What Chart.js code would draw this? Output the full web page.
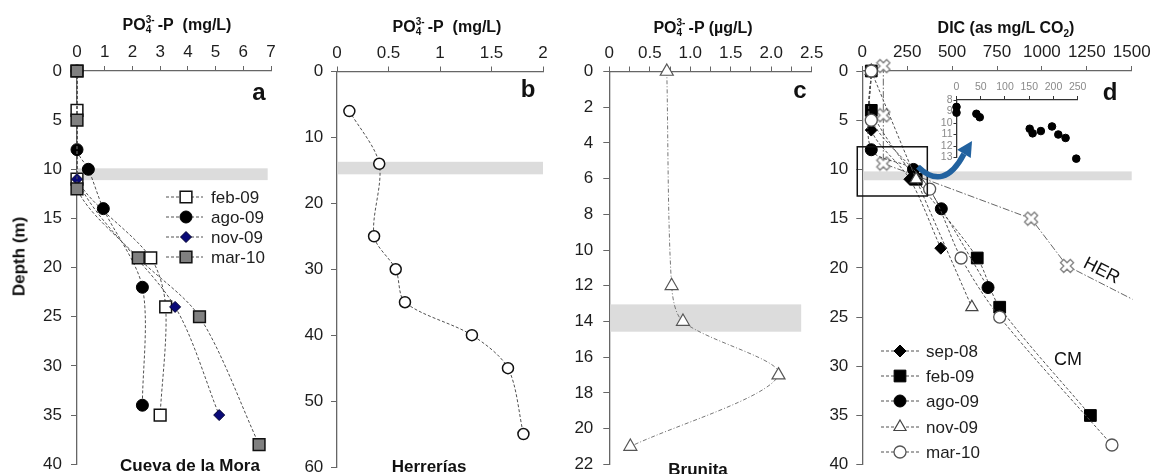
<!DOCTYPE html>
<html><head><meta charset="utf-8">
<script src="https://cdn.jsdelivr.net/npm/chart.js@4.4.1/dist/chart.umd.min.js"></script>
<style>
body{margin:0;background:#fff;}
#wrap{position:relative;width:1153px;height:474px;overflow:hidden;font-family:"Liberation Sans",Arial,sans-serif;color:#111;}
canvas{position:absolute;top:0;}
.t{position:absolute;white-space:nowrap;line-height:1;transform:translateX(-50%);}
.b{font-weight:bold;}
.ss{display:inline-block;position:relative;width:12px;height:10px;}
.ss .up{position:absolute;left:0;top:-5px;font-size:10px;line-height:1;}
.ss .dn{position:absolute;left:0;top:5px;font-size:10px;line-height:1;}
</style></head>
<body><div id="wrap">
<canvas id="ca" width="290" height="474" style="left:0px"></canvas>
<canvas id="cb" width="270" height="474" style="left:290px"></canvas>
<canvas id="cc" width="270" height="474" style="left:560px"></canvas>
<canvas id="cd" width="338" height="474" style="left:815px"></canvas>
<canvas id="ci" width="175" height="95" style="left:915px;top:70px"></canvas>

<div class="t b" style="left:177px;top:17px;font-size:16px">PO<span class="ss"><span class="up">3-</span><span class="dn">4</span></span>-P&nbsp;&nbsp;(mg/L)</div>
<div class="t b" style="left:447px;top:19px;font-size:16px">PO<span class="ss"><span class="up">3-</span><span class="dn">4</span></span>-P&nbsp;&nbsp;(mg/L)</div>
<div class="t b" style="left:703px;top:20px;font-size:16px">PO<span class="ss"><span class="up">3-</span><span class="dn">4</span></span>-P (µg/L)</div>
<div class="t b" style="left:1006px;top:20px;font-size:16px">DIC (as mg/L CO<span style="font-size:10px;position:relative;top:4px">2</span>)</div>

<div class="t b" style="left:259px;top:80px;font-size:24px">a</div>
<div class="t b" style="left:528px;top:77px;font-size:24px">b</div>
<div class="t b" style="left:800px;top:78px;font-size:24px">c</div>
<div class="t b" style="left:1110px;top:80px;font-size:24px">d</div>

<div class="t b" style="left:19px;top:248px;font-size:17px;transform:translateX(-50%) rotate(-90deg)">Depth (m)</div>
<div class="t b" style="left:190px;top:457px;font-size:17px">Cueva de la Mora</div>
<div class="t b" style="left:429px;top:458px;font-size:17px">Herrerías</div>
<div class="t b" style="left:698px;top:461px;font-size:17px">Brunita</div>
<div class="t" style="left:1102px;top:261px;font-size:18px;transform:translateX(-50%) rotate(27deg)">HER</div>
<div class="t" style="left:1068px;top:350px;font-size:18px">CM</div>
</div>
<script>
// ---------- DATA ----------
// Panel a: Cueva de la Mora, PO4-P (mg/L) vs depth (m)
const depthA_feb09 = [0, 4, 11, 19, 24, 35];
const po4A_feb09   = [0, 0, 0, 2.66, 3.2, 3.0];
const depthA_ago09 = [0, 8, 10, 14, 22, 34];
const po4A_ago09   = [0, 0, 0.41, 0.95, 2.36, 2.36];
const depthA_nov09 = [0, 11, 24, 35];
const po4A_nov09   = [0, 0, 3.54, 5.13];
const depthA_mar10 = [0, 5, 12, 19, 25, 38];
const po4A_mar10   = [0, 0, 0, 2.21, 4.42, 6.57];
// Panel b: Herrerías
const depthB = [6, 14, 25, 30, 35, 40, 45, 55];
const po4B   = [0.12, 0.41, 0.36, 0.57, 0.66, 1.31, 1.66, 1.81];
// Panel c: Brunita (µg/L)
const depthC = [0, 12, 14, 17, 21];
const po4C   = [0.71, 0.77, 0.91, 2.09, 0.26];
// Panel d: DIC (mg/L CO2)
const depthD_sep08 = [0, 6, 11, 18];
const dicD_sep08   = [50, 50, 265, 437];
const depthD_feb09 = [0, 4, 11, 19, 24, 35];
const dicD_feb09   = [50, 50, 300, 640, 765, 1270];
const depthD_ago09 = [0, 8, 10, 14, 22];
const dicD_ago09   = [50, 50, 285, 440, 700];
const depthD_nov09 = [0, 11, 24];
const dicD_nov09   = [50, 300, 610];
const depthD_mar10 = [0, 5, 12, 19, 25, 38];
const dicD_mar10   = [50, 50, 375, 550, 765, 1390];
const depthD_HER   = [-0.5, 4.5, 9.4, 15, 19.8, 23.2];
const dicD_HER     = [117, 117, 117, 940, 1140, 1505];
// inset (DIC 0-250, depth 8-13)
const insetDIC   = [0, 0, 41, 48, 151, 157, 174, 197, 210, 225, 247];
const insetDepth = [8.6, 9.1, 9.2, 9.5, 10.5, 10.9, 10.7, 10.3, 11.0, 11.3, 13.1];
// redoxcline bands (depth range, x range)
const bandA = [9.9, 11.1], bandAx = [0, 6.88];
const bandB = [13.7, 15.6], bandBx = [0, 2];
const bandC = [13.04, 14.57], bandCx = [0, 2.37];
const bandD = [10.2, 11.1], bandDx = [0, 1500];

// ---------- STYLE / HELPERS ----------
const FONT = '"Liberation Sans", Arial, sans-serif';
const AX = '#666';
const TXT = '#1e1e1e';
const pts = (xs, ys) => xs.map((x, i) => ({x, y: ys[i]}));

function crossImg(){
  const c = document.createElement('canvas'); c.width = 16; c.height = 16;
  const g = c.getContext('2d'); g.translate(8, 8); g.rotate(Math.PI/4);
  const a = 7, w = 2.3;
  g.beginPath();
  g.moveTo(-w,-a); g.lineTo(w,-a); g.lineTo(w,-w); g.lineTo(a,-w); g.lineTo(a,w); g.lineTo(w,w);
  g.lineTo(w,a); g.lineTo(-w,a); g.lineTo(-w,w); g.lineTo(-a,w); g.lineTo(-a,-w); g.lineTo(-w,-w);
  g.closePath(); g.fillStyle = '#fff'; g.fill(); g.strokeStyle = '#808080'; g.lineWidth = 1.3; g.stroke();
  return c;
}

const bandPlugin = {
  id: 'band',
  beforeDatasetsDraw(chart, args, o){
    if (!o || !o.depth) return;
    const {ctx, scales:{x, y}} = chart;
    const x0 = x.getPixelForValue(o.xr[0]) + 1, x1 = x.getPixelForValue(o.xr[1]);
    const y0 = y.getPixelForValue(o.depth[0]), y1 = y.getPixelForValue(o.depth[1]);
    ctx.save(); ctx.fillStyle = '#dcdcdc'; ctx.fillRect(x0, y0, x1 - x0, y1 - y0); ctx.restore();
  }
};

function marker(ctx, ds, x, y){
  ctx.save();
  ctx.fillStyle = ds.pointBackgroundColor; ctx.strokeStyle = ds.pointBorderColor; ctx.lineWidth = ds.pointBorderWidth;
  Chart.helpers.drawPoint(ctx, {pointStyle: ds.pointStyle, radius: ds.pointRadius, borderWidth: ds.pointBorderWidth, rotation: 0}, x, y);
  ctx.restore();
}

const legendPlugin = {
  id: 'profLegend',
  afterDatasetsDraw(chart, args, o){
    if (!o || !o.rows) return;
    const ctx = chart.ctx;
    const items = chart.data.datasets.filter(d => d.inLegend).sort((a, b) => a.inLegend - b.inLegend);
    items.forEach((ds, i) => {
      const y = o.rows[i];
      ctx.save();
      ctx.strokeStyle = ds.borderColor; ctx.lineWidth = 1; ctx.setLineDash(ds.borderDash || []);
      ctx.beginPath(); ctx.moveTo(o.x0, y); ctx.lineTo(o.x1, y); ctx.stroke();
      ctx.setLineDash([]);
      marker(ctx, ds, o.xm, y);
      ctx.fillStyle = TXT; ctx.font = '17px ' + FONT; ctx.textBaseline = 'middle';
      ctx.fillText(ds.label, o.xt, y + 1);
      ctx.restore();
    });
  }
};

const extrasPlugin = {
  id: 'extras',
  afterDatasetsDraw(chart, args, o){
    if (!o || !o.box) return;
    const {ctx, scales:{x, y}} = chart;
    const px = v => x.getPixelForValue(v), py = v => y.getPixelForValue(v);
    ctx.save();
    ctx.strokeStyle = '#111'; ctx.lineWidth = 1.5;
    ctx.strokeRect(px(o.box[0]), py(o.box[2]), px(o.box[1]) - px(o.box[0]), py(o.box[3]) - py(o.box[2]));
    const a = o.arrow;
    const s = [px(a[0][0]), py(a[0][1])], c = [px(a[1][0]), py(a[1][1])], e = [px(a[2][0]), py(a[2][1])], t = [px(a[3][0]), py(a[3][1])];
    ctx.strokeStyle = '#22629f'; ctx.fillStyle = '#22629f'; ctx.lineWidth = 5.5; ctx.lineCap = 'butt';
    ctx.beginPath(); ctx.moveTo(s[0], s[1]); ctx.quadraticCurveTo(c[0], c[1], e[0], e[1]); ctx.stroke();
    const dx = t[0] - e[0], dy = t[1] - e[1], L = Math.hypot(dx, dy), nx = -dy / L, ny = dx / L, hw = 8;
    ctx.beginPath(); ctx.moveTo(t[0], t[1]);
    ctx.lineTo(e[0] + nx * hw, e[1] + ny * hw); ctx.lineTo(e[0] - nx * hw, e[1] - ny * hw); ctx.closePath(); ctx.fill();
    ctx.restore();
  }
};

const plain = v => String(v);
function opts(o){
  const xt = {stepSize: o.xstep, color: o.xtc || TXT, font: {family: FONT, size: o.fs || 17}, padding: o.xpad ?? 3, maxRotation: 0, autoSkip: false, callback: o.xcb || plain};
  return {
    responsive: false, animation: false, devicePixelRatio: 1, events: [],
    layout: {padding: {left: 0, top: 0, right: o.padR, bottom: o.padB}},
    plugins: {legend: {display: false}, tooltip: {enabled: false},
      band: o.band || {}, profLegend: o.legend || {}, extras: o.extras || {}},
    scales: {
      x: {type: 'linear', position: 'top', min: o.xmin, max: o.xmax, ticks: xt,
        grid: {drawOnChartArea: false, tickLength: o.xtl || 5, color: o.axc || AX},
        border: {color: o.axc || AX, width: 1.3},
        afterFit(s){ s.height = o.axH; s.paddingLeft = 0; s.paddingRight = 0; }},
      y: {type: 'linear', position: 'left', reverse: true, min: o.ymin, max: o.ymax,
        ticks: {stepSize: o.ystep, color: o.ytc || TXT, font: {family: FONT, size: o.yfs || 17}, padding: o.ypad ?? 8, autoSkip: false, callback: plain},
        grid: {drawOnChartArea: false, tickLength: o.ytl || 6, color: o.axc || AX},
        border: {color: o.axc || AX, width: 1.3},
        afterFit(s){ s.width = o.axW; s.paddingTop = 0; s.paddingBottom = 0; }}
    }
  };
}
const LINE = {showLine: true, borderColor: '#505050', borderWidth: 1, borderDash: [3, 2], tension: 0.3, clip: false};
const PLUGS = [bandPlugin, legendPlugin, extrasPlugin];

// ---------- PANEL A ----------
new Chart(document.getElementById('ca'), {
  type: 'scatter', plugins: PLUGS,
  data: {datasets: [
    {...LINE, label: 'mar-10', inLegend: 4, order: 1, data: pts(po4A_mar10, depthA_mar10), pointStyle: 'rect', pointRadius: 8.3, pointBackgroundColor: '#808080', pointBorderColor: '#111', pointBorderWidth: 1.5},
    {...LINE, label: 'nov-09', inLegend: 3, order: 2, data: pts(po4A_nov09, depthA_nov09), pointStyle: 'rectRot', pointRadius: 5.5, pointBackgroundColor: '#0a0a78', pointBorderColor: '#000030', pointBorderWidth: 1},
    {...LINE, label: 'ago-09', inLegend: 2, order: 3, data: pts(po4A_ago09, depthA_ago09), pointStyle: 'circle', pointRadius: 6, pointBackgroundColor: '#000', pointBorderColor: '#000', pointBorderWidth: 1},
    {...LINE, label: 'feb-09', inLegend: 1, order: 4, data: pts(po4A_feb09, depthA_feb09), pointStyle: 'rect', pointRadius: 8.3, pointBackgroundColor: '#fff', pointBorderColor: '#111', pointBorderWidth: 1.5}
  ]},
  options: opts({xmin: 0, xmax: 7, xstep: 1, ymin: 0, ymax: 40, ystep: 5, axH: 71, axW: 77, padR: 19, padB: 8.5, ypad: 9,
    band: {depth: bandA, xr: bandAx},
    legend: {rows: [197, 217, 237, 257], x0: 166, x1: 203, xm: 186, xt: 211}})
});

// ---------- PANEL B ----------
new Chart(document.getElementById('cb'), {
  type: 'scatter', plugins: PLUGS,
  data: {datasets: [
    {...LINE, label: 'Herrerías', data: pts(po4B, depthB), pointStyle: 'circle', pointRadius: 5.5, pointBackgroundColor: '#fff', pointBorderColor: '#111', pointBorderWidth: 1.5}
  ]},
  options: opts({xmin: 0, xmax: 2, xstep: 0.5, ymin: 0, ymax: 60, ystep: 10, axH: 71.5, axW: 47, padR: 17, padB: 5.6, ypad: 7.7,
    band: {depth: bandB, xr: bandBx}})
});

// ---------- PANEL C ----------
new Chart(document.getElementById('cc'), {
  type: 'scatter', plugins: PLUGS,
  data: {datasets: [
    {...LINE, label: 'Brunita', borderColor: '#777', borderDash: [4, 2, 1, 2], data: pts(po4C, depthC), pointStyle: 'triangle', pointRadius: 7.5, pointBackgroundColor: '#fff', pointBorderColor: '#555', pointBorderWidth: 1.2}
  ]},
  options: opts({xmin: 0, xmax: 2.5, xstep: 0.25, ymin: 0, ymax: 22, ystep: 2, axH: 71.5, axW: 49.3, padR: 18.3, padB: 9.6, ypad: 10,
    xcb: v => (Math.abs(v * 2 - Math.round(v * 2)) < 1e-9) ? (v === 0 ? '0' : v.toFixed(1)) : '',
    band: {depth: bandC, xr: bandCx}})
});

// ---------- PANEL D ----------
new Chart(document.getElementById('cd'), {
  type: 'scatter', plugins: PLUGS,
  data: {datasets: [
    {...LINE, label: 'mar-10', inLegend: 5, order: 1, data: pts(dicD_mar10, depthD_mar10), pointStyle: 'circle', pointRadius: 6, pointBackgroundColor: '#fff', pointBorderColor: '#555', pointBorderWidth: 1.3},
    {...LINE, label: 'nov-09', inLegend: 4, order: 2, data: pts(dicD_nov09, depthD_nov09), pointStyle: 'triangle', pointRadius: 7, pointBackgroundColor: '#fff', pointBorderColor: '#444', pointBorderWidth: 1.2},
    {...LINE, label: 'ago-09', inLegend: 3, order: 3, data: pts(dicD_ago09, depthD_ago09), pointStyle: 'circle', pointRadius: 6, pointBackgroundColor: '#000', pointBorderColor: '#000', pointBorderWidth: 1},
    {...LINE, label: 'feb-09', inLegend: 2, order: 4, data: pts(dicD_feb09, depthD_feb09), pointStyle: 'rect', pointRadius: 8.3, pointBackgroundColor: '#000', pointBorderColor: '#000', pointBorderWidth: 1},
    {...LINE, label: 'sep-08', inLegend: 1, order: 5, data: pts(dicD_sep08, depthD_sep08), pointStyle: 'rectRot', pointRadius: 6, pointBackgroundColor: '#000', pointBorderColor: '#000', pointBorderWidth: 1},
    {...LINE, label: 'HER', order: 6, borderColor: '#666', borderDash: [7, 2, 1.5, 2], tension: 0, data: pts(dicD_HER, depthD_HER),
      clip: {left: 20, top: 20, right: 1, bottom: 20},
      pointStyle: crossImg(), pointRadius: [6, 6, 6, 6, 6, 0], pointBackgroundColor: '#fff', pointBorderColor: '#888', pointBorderWidth: 1}
  ]},
  options: opts({xmin: 0, xmax: 1500, xstep: 250, ymin: 0, ymax: 40, ystep: 5, axH: 71, axW: 47.3, padR: 21.3, padB: 4, ypad: 8,
    band: {depth: bandD, xr: bandDx},
    legend: {rows: [351, 376, 401, 427, 452], x0: 66, x1: 105, xm: 85, xt: 111},
    extras: {box: [-28, 362, 7.7, 12.7], arrow: [[310, 9.72], [455, 12.3], [566, 8.42], [611, 7.1]]}})
});

// ---------- INSET ----------
new Chart(document.getElementById('ci'), {
  type: 'scatter',
  data: {datasets: [
    {label: 'inset', data: pts(insetDIC, insetDepth), pointStyle: 'circle', pointRadius: 3.8, pointBackgroundColor: '#000', pointBorderColor: '#000', clip: false}
  ]},
  options: opts({xmin: 0, xmax: 250, xstep: 50, ymin: 8, ymax: 13, ystep: 1, axH: 30, axW: 41.5, padR: 12.3, padB: 7.5,
    fs: 10.5, yfs: 10.5, xtl: 4, ytl: 3, xpad: 3, ypad: 1, axc: '#333', ytc: '#8a8a8a', xtc: '#8a8a8a'})
});
</script>
</body></html>
